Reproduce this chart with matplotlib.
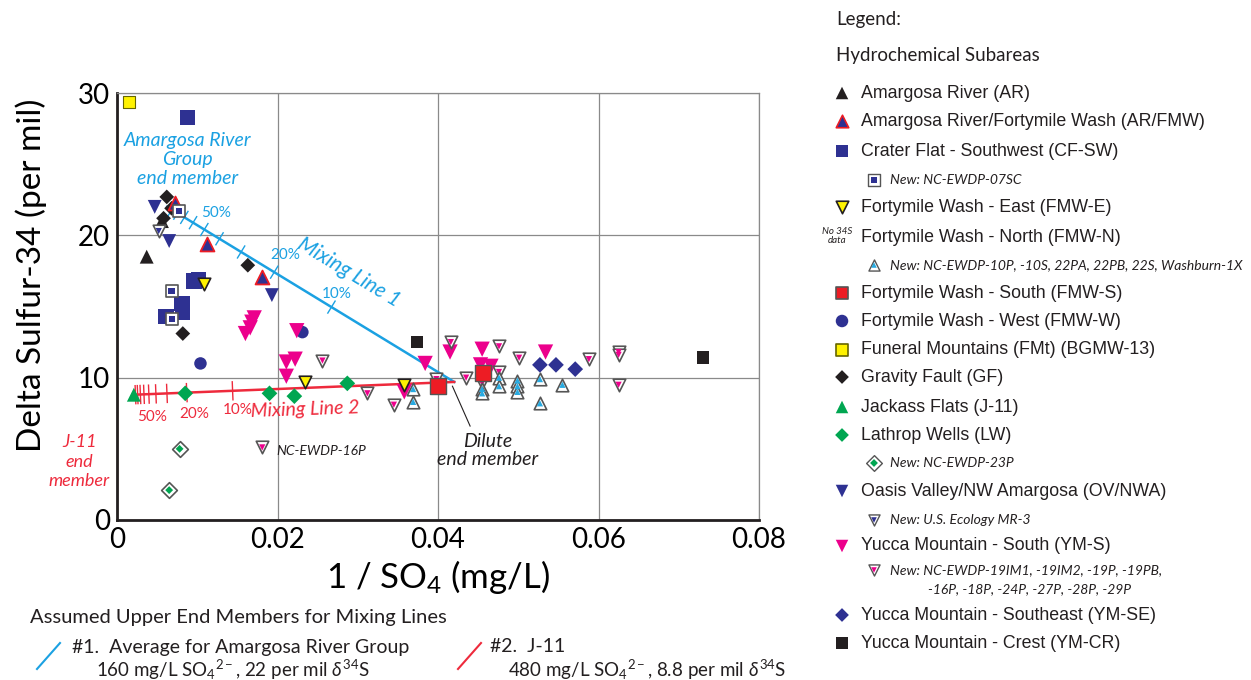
import numpy as np
import matplotlib
matplotlib.use('Agg')
import matplotlib.pyplot as plt

plt.rcParams['font.family'] = ['Lato', 'DejaVu Sans']
plt.rcParams['mathtext.fontset'] = 'custom'
plt.rcParams['mathtext.rm'] = 'Lato'
plt.rcParams['mathtext.it'] = 'Lato:italic'

# colours
BLUE = '#2E3192'
RED = '#ED1C24'
MAGENTA = '#EC008C'
GREEN = '#00A651'
YELLOW = '#FFF200'
CYAN = '#27AAE1'
BLACK = '#231F20'
GREY = '#8a8a8a'
LINE1 = '#1BA1E2'
LINE2 = '#EE2A3C'

# data: x = 1/SO4 (L/mg), y = delta 34S (per mil)
ar_x = [0.0037, 0.0056]
ar_y = [18.5, 21.0]
arfmw_x = [0.0072, 0.0112, 0.0181]
arfmw_y = [22.3, 19.4, 17.1]
cfsw_x = [0.0088, 0.0096, 0.0102, 0.0081, 0.0082, 0.0061]
cfsw_y = [28.3, 16.8, 16.9, 15.2, 14.6, 14.3]
cfsw_new_x = [0.0077, 0.0068, 0.0069]
cfsw_new_y = [21.7, 16.1, 14.1]
fmwe_x = [0.0108, 0.0234, 0.0358]
fmwe_y = [16.6, 9.7, 9.5]
fmwn_new_x = [0.0369, 0.0369, 0.0455, 0.0455, 0.0476, 0.0476, 0.0499, 0.0499, 0.0499, 0.0527, 0.0527, 0.0555]
fmwn_new_y = [9.2, 8.3, 9.2, 8.9, 10.0, 9.4, 9.8, 9.4, 9.0, 9.9, 8.2, 9.5]
fmws_x = [0.0400, 0.0456]
fmws_y = [9.4, 10.3]
fmww_x = [0.0104, 0.0231]
fmww_y = [11.0, 13.2]
fmt_x = [0.0015]
fmt_y = [29.4]
gf_x = [0.0062, 0.0068, 0.0058, 0.0163, 0.0082]
gf_y = [22.7, 21.9, 21.2, 17.9, 13.1]
j11_x = [0.0021]
j11_y = [8.8]
lw_x = [0.0085, 0.0190, 0.0221, 0.0287]
lw_y = [8.9, 8.9, 8.7, 9.6]
lw_new_x = [0.0078, 0.0065]
lw_new_y = [5.0, 2.1]
ov_x = [0.0047, 0.0065, 0.0193]
ov_y = [22.0, 19.6, 15.8]
ov_new_x = [0.0052]
ov_new_y = [20.3]
yms_x = [0.0171, 0.0168, 0.0166, 0.0160, 0.0224, 0.0211, 0.0222, 0.0211, 0.0358,
         0.0384, 0.0415, 0.0455, 0.0453, 0.0466, 0.0534]
yms_y = [14.2, 13.9, 13.5, 13.1, 13.3, 11.1, 11.3, 10.1, 9.0,
         11.0, 11.8, 12.0, 10.9, 10.8, 11.8]
yms_new_x = [0.0181, 0.0256, 0.0312, 0.0345, 0.0416, 0.0435, 0.0476, 0.0476, 0.0501,
             0.0455, 0.0588, 0.0625, 0.0625, 0.0625, 0.0398]
yms_new_y = [5.1, 11.2, 8.9, 8.1, 12.5, 10.0, 12.2, 10.4, 11.4,
             9.6, 11.3, 11.8, 11.6, 9.5, 9.9]
ymse_x = [0.0527, 0.0547, 0.0571]
ymse_y = [10.9, 10.9, 10.6]
ymcr_x = [0.0374, 0.0730]
ymcr_y = [12.5, 11.4]

# mixing line end members (SO4 mg/L, delta 34S)
amargosa_end = (160.0, 22.0)
j11_end = (480.0, 8.8)
dilute_end = (23.8, 9.7)
mix_fractions = [0.9, 0.8, 0.7, 0.6, 0.5, 0.4, 0.3, 0.2, 0.1]

fig = plt.figure(figsize=(12.51, 6.8), dpi=100)
ax = fig.add_axes([117 / 1251, 1 - 520 / 680, 642 / 1251, 427 / 680])
ax.set_xlim(0, 0.08)
ax.set_ylim(0, 30)
ax.set_xticks([0, 0.02, 0.04, 0.06, 0.08])
ax.set_xticklabels(['0', '0.02', '0.04', '0.06', '0.08'])
ax.set_yticks([0, 10, 20, 30])
ax.tick_params(length=0, labelsize=20, pad=5)
ax.grid(True, color=GREY, lw=0.9)
ax.set_axisbelow(True)
for s in ['top', 'right']:
    ax.spines[s].set_color(GREY)
    ax.spines[s].set_linewidth(0.9)
for s in ['left', 'bottom']:
    ax.spines[s].set_color(BLACK)
    ax.spines[s].set_linewidth(2)
ax.set_xlabel('1 / SO$_4$ (mg/L)', fontsize=25, labelpad=4)
ax.set_ylabel('Delta Sulfur-34 (per mil)', fontsize=24, va='center')
ax.yaxis.set_label_coords(-0.134, 0.574)


def mix_line(end, color, tick_len):
    ca, da = end
    cd, dd = dilute_end
    ax.plot([1 / ca, 1 / cd], [da, dd], color=color, lw=1.8, zorder=2)
    # ticks at fractions of the upper end member
    p0 = ax.transData.transform((1 / ca, da))
    p1 = ax.transData.transform((1 / cd, dd))
    d = (p1 - p0) / np.hypot(*(p1 - p0))
    nrm = np.array([-d[1], d[0]])
    for f in mix_fractions:
        c = f * ca + (1 - f) * cd
        dl = (f * ca * da + (1 - f) * cd * dd) / c
        p = ax.transData.transform((1 / c, dl))
        a = ax.transData.inverted().transform(p + nrm * tick_len)
        b = ax.transData.inverted().transform(p - nrm * tick_len)
        ax.plot([a[0], b[0]], [a[1], b[1]], color=color, lw=1.0, zorder=2)


mix_line(amargosa_end, LINE1, 7)
mix_line(j11_end, LINE2, 9)

ms = 10


def sc(x, y, m, fc, ec='none', s=ms, lw=0.8, z=3):
    ax.scatter(x, y, marker=m, s=s ** 2, facecolor=fc, edgecolor=ec, linewidth=lw, zorder=z)


def sc_new(x, y, m, inner, s=ms, z=3):
    sc(x, y, m, 'white', '#555555', s=s, lw=1.2, z=z)
    sc(x, y, m, inner, 'none', s=s * 0.5, z=z)


sc(fmt_x, fmt_y, 's', YELLOW, '#666600', s=9)
sc(cfsw_x, cfsw_y, 's', BLUE, s=11)
sc(ar_x, ar_y, '^', BLACK, s=10)
sc(gf_x, gf_y, 'D', BLACK, s=7.5)
sc(arfmw_x, arfmw_y, '^', BLUE, RED, s=10, lw=1.3)
sc_new(cfsw_new_x, cfsw_new_y, 's', BLUE, s=9)
sc(ov_x, ov_y, 'v', BLUE, s=10)
sc_new(ov_new_x, ov_new_y, 'v', BLUE, s=9)
sc(fmww_x, fmww_y, 'o', BLUE, s=9)
sc(yms_x, yms_y, 'v', MAGENTA, s=11)
sc_new(yms_new_x, yms_new_y, 'v', MAGENTA, s=9)
sc_new(fmwn_new_x, fmwn_new_y, '^', CYAN, s=9)
sc(fmwe_x, fmwe_y, 'v', YELLOW, BLACK, s=9, lw=1.2)
sc(j11_x, j11_y, '^', GREEN, s=10)
sc(lw_x, lw_y, 'D', GREEN, s=8)
sc_new(lw_new_x, lw_new_y, 'D', GREEN, s=8)
sc(ymse_x, ymse_y, 'D', BLUE, s=8)
sc(ymcr_x, ymcr_y, 's', BLACK, s=9)
sc(fmws_x, fmws_y, 's', RED, '#555555', s=11, lw=1.0, z=4)

# annotations inside the plot
ax.text(0.0088, 25.3, 'Amargosa River\nGroup\nend member', color=LINE1, style='italic',
        fontsize=14, ha='center', va='center', linespacing=1.15)
ax.text(0.0289, 17.4, 'Mixing Line 1', color=LINE1, style='italic', fontsize=15,
        ha='center', va='center', rotation=-31)
ax.text(0.0124, 21.6, '50%', color=LINE1, fontsize=11, ha='center', va='center')
ax.text(0.0210, 18.6, '20%', color=LINE1, fontsize=11, ha='center', va='center')
ax.text(0.0274, 15.9, '10%', color=LINE1, fontsize=11, ha='center', va='center')
ax.text(0.0044, 7.25, '50%', color=LINE2, fontsize=11, ha='center', va='center')
ax.text(0.0096, 7.45, '20%', color=LINE2, fontsize=11, ha='center', va='center')
ax.text(0.0150, 7.7, '10%', color=LINE2, fontsize=11, ha='center', va='center')
ax.text(0.0234, 7.75, 'Mixing Line 2', color=LINE2, style='italic', fontsize=14,
        ha='center', va='center', rotation=2)
ax.text(-0.0047, 4.1, 'J-11\nend\nmember', color=LINE2, style='italic', fontsize=13,
        ha='center', va='center', linespacing=1.25, clip_on=False)
ax.text(0.0199, 4.85, 'NC-EWDP-16P', color=BLACK, style='italic', fontsize=10,
        ha='left', va='center')
ax.plot([0.0418, 0.0440], [9.4, 6.6], color=BLACK, lw=0.8, zorder=2)
ax.text(0.0462, 4.9, 'Dilute\nend member', color=BLACK, style='italic', fontsize=14,
        ha='center', va='center', linespacing=1.1)

# overlay in pixel space for the legend and the footnote
lax = fig.add_axes([0, 0, 1, 1], facecolor='none')
lax.set_xlim(0, 1251)
lax.set_ylim(680, 0)
lax.axis('off')

lax.text(836, 20, 'Legend:', fontsize=13.5, va='center', color=BLACK)
lax.text(836, 56, 'Hydrochemical Subareas', fontsize=13.5, va='center', color=BLACK)

LF = ['Liberation Sans', 'DejaVu Sans']
legend_rows = [
    ('Amargosa River (AR)', 93, '^', BLACK, 'none', None),
    ('Amargosa River/Fortymile Wash (AR/FMW)', 121, '^', BLUE, RED, None),
    ('Crater Flat - Southwest (CF-SW)', 151, 's', BLUE, 'none', None),
    ('New: NC-EWDP-07SC', 180, 's', 'new', BLUE, 'sub'),
    ('Fortymile Wash - East (FMW-E)', 207, 'v', YELLOW, BLACK, None),
    ('Fortymile Wash - North (FMW-N)', 237, None, None, None, None),
    ('New: NC-EWDP-10P, -10S, 22PA, 22PB, 22S, Washburn-1X', 265, '^', 'new', CYAN, 'sub'),
    ('Fortymile Wash - South (FMW-S)', 293, 's', RED, '#555555', None),
    ('Fortymile Wash - West (FMW-W)', 321, 'o', BLUE, 'none', None),
    ('Funeral Mountains (FMt) (BGMW-13)', 350, 's', YELLOW, '#666600', None),
    ('Gravity Fault (GF)', 377, 'D', BLACK, 'none', None),
    ('Jackass Flats (J-11)', 407, '^', GREEN, 'none', None),
    ('Lathrop Wells (LW)', 435, 'D', GREEN, 'none', None),
    ('New: NC-EWDP-23P', 463, 'D', 'new', GREEN, 'sub'),
    ('Oasis Valley/NW Amargosa (OV/NWA)', 491, 'v', BLUE, 'none', None),
    ('New: U.S. Ecology MR-3', 520, 'v', 'new', BLUE, 'sub'),
    ('Yucca Mountain - South (YM-S)', 546, 'v', MAGENTA, 'none', None),
    ('New: NC-EWDP-19IM1, -19IM2, -19P, -19PB,', 570, 'v', 'new', MAGENTA, 'sub'),
    ('Yucca Mountain - Southeast (YM-SE)', 615, 'D', BLUE, 'none', None),
    ('Yucca Mountain - Crest (YM-CR)', 643, 's', BLACK, 'none', None),
]
for label, yy, m, fc, ec, kind in legend_rows:
    if kind == 'sub':
        lax.scatter([874], [yy], marker=m, s=8 ** 2, facecolor='white', edgecolor='#555555', lw=1.0)
        lax.scatter([874], [yy], marker=m, s=4 ** 2, facecolor=ec, edgecolor='none')
        lax.text(890, yy, label, fontsize=10, style='italic', va='center', color=BLACK)
    else:
        if m is not None:
            sz = 7 if m == 'D' else 9
            lax.scatter([842], [yy], marker=m, s=sz ** 2, facecolor=fc, edgecolor=ec,
                        lw=1.2 if ec != 'none' else 0)
        lax.text(861, yy, label, fontsize=12.8, va='center', color=BLACK, family=LF)
lax.text(928, 589, '-16P, -18P, -24P, -27P, -28P, -29P', fontsize=10, style='italic',
         va='center', color=BLACK)
lax.text(837, 236, 'No 34S\ndata', fontsize=7, style='italic', va='center', ha='center',
         color=BLACK, linespacing=0.95)

# footnote on assumed upper end members
lax.text(30, 618, 'Assumed Upper End Members for Mixing Lines', fontsize=14.5, va='center',
         color=BLACK)
lax.plot([37, 60], [669, 643], color=LINE1, lw=1.5)
lax.text(72, 647, '#1.  Average for Amargosa River Group', fontsize=14, va='center', color=BLACK)
lax.text(96, 670, '160 mg/L SO$_4$$^{2-}$, 22 per mil $\\delta^{34}$S', fontsize=13.5,
         va='center', color=BLACK)
lax.plot([458, 481], [669, 643], color=LINE2, lw=1.5)
lax.text(490, 647, '#2.  J-11', fontsize=14, va='center', color=BLACK)
lax.text(508, 670, '480 mg/L SO$_4$$^{2-}$, 8.8 per mil $\\delta^{34}$S', fontsize=13.5,
         va='center', color=BLACK)

fig.savefig('out.png', dpi=100)
